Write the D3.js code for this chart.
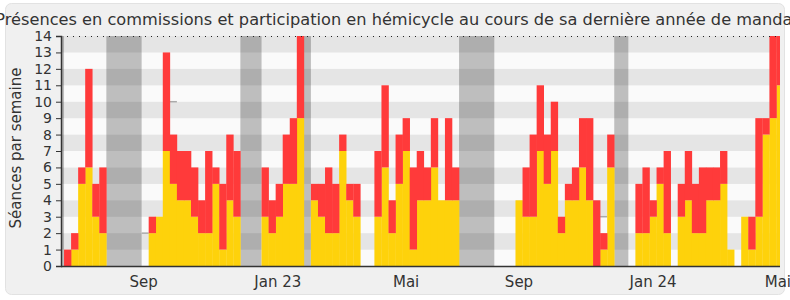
<!DOCTYPE html>
<html>
<head>
<meta charset="utf-8">
<script src="https://cdn.jsdelivr.net/npm/d3@7"></script>
<style>
  body { margin: 0; background: #fff; }
  text { font-family: "DejaVu Sans", sans-serif; fill: #333; }
</style>
</head>
<body>
<script>
// weekly values, one entry per week (index 0 = first week shown)
const commission = [0,1,5,6,3,2, 0,0,0,0,0, 0,2,3,7,5,4,4,3,2,2,5,1,4,3, 0,0,0, 3,2,3,5,5,9, 0,
  4,3,2,2,7,4,3,0,0,3,6,2,5,7,1,4,4,6,4,4,4, 0,0,0,0,0,
  0,0,0,4,3,3,7,5,7,2,4,4,6,4,0,1,6, 0,0,
  0,2,2,3,5,2,0,3,4,2,2,4,4,5,1,0,3,1,3,8,9,11];
const hemicycle = [1,1,1,6,2,4, 0,0,0,0,0, 0,1,0,6,3,3,3,3,2,5,1,4,4,4, 0,0,0, 3,2,2,3,4,5, 0,
  1,2,4,3,1,1,2,0,0,4,5,2,3,2,5,3,2,3,0,5,2, 0,0,0,0,0,
  0,0,0,0,3,5,4,3,3,1,1,2,3,5,4,1,2, 0,0,
  0,3,4,1,1,5,0,2,3,3,4,2,2,2,0,0,0,2,6,1,5,3];
// small grey marks
const markWeeks = [11, 15, 76];
const markValues = [2, 10, 3];
// holidays (start week, end week)
const vacStart = [-0.43, 6, 25, 34, 56, 78];
const vacEnd = [0, 11, 28, 35, 61, 80];
// x labels
const tickWeeks = [11.3, 30.3, 48.5, 64.5, 83.5, 101.2];
const tickLabels = ["Sep", "Jan 23", "Mai", "Sep", "Jan 24", "Mai"];

const W = 790, H = 300;
const m = { left: 61, right: 780, top: 36, bottom: 266 };

const svg = d3.select("body").append("svg")
  .attr("width", W)
  .attr("height", H);

// panel
svg.append("rect")
  .attr("x", 0).attr("y", 0).attr("width", W).attr("height", H)
  .attr("fill", "#fff");
svg.append("rect")
  .attr("x", 5.5).attr("y", 3.5).attr("width", 779).attr("height", 291)
  .attr("rx", 6)
  .attr("fill", "#f0f0f0")
  .attr("stroke", "#e2e2e2");

const x = d3.scaleLinear().domain([-0.43, 101.5]).range([m.left, m.right]);
const y = d3.scaleLinear().domain([0, 14]).range([m.bottom, m.top]);

svg.append("clipPath").attr("id", "plot")
  .append("rect")
  .attr("x", m.left).attr("y", m.top - 1)
  .attr("width", m.right - m.left).attr("height", m.bottom - m.top + 1);

const g = svg.append("g").attr("clip-path", "url(#plot)");

// stripes
g.selectAll(".stripe")
  .data(d3.range(14))
  .join("rect")
  .attr("x", m.left)
  .attr("width", m.right - m.left)
  .attr("y", d => y(d + 1))
  .attr("height", d => y(d) - y(d + 1))
  .attr("fill", d => d % 2 ? "#e5e5e5" : "#fafafa");

// holidays
g.selectAll(".vac")
  .data(vacStart)
  .join("rect")
  .attr("x", d => x(d))
  .attr("width", (d, i) => x(vacEnd[i]) - x(d))
  .attr("y", m.top)
  .attr("height", m.bottom - m.top)
  .attr("fill", "#000")
  .attr("opacity", 0.24);

// grey marks
g.selectAll(".mark")
  .data(markWeeks)
  .join("line")
  .attr("x1", d => x(d))
  .attr("x2", d => x(d + 1))
  .attr("y1", (d, i) => y(markValues[i]))
  .attr("y2", (d, i) => y(markValues[i]))
  .attr("stroke", "#aaa")
  .attr("stroke-width", 1.5);

const weeks = d3.range(commission.length);

// commission (yellow)
g.selectAll(".com")
  .data(weeks)
  .join("rect")
  .attr("x", d => x(d))
  .attr("width", x(1) - x(0) + 0.3)
  .attr("y", d => y(commission[d]))
  .attr("height", d => y(0) - y(commission[d]))
  .attr("fill", "#fed20b");

// hemicycle (red) on top
g.selectAll(".hem")
  .data(weeks.filter(d => hemicycle[d] > 0))
  .join("rect")
  .attr("x", d => x(d))
  .attr("width", x(1) - x(0) + 0.3)
  .attr("y", d => y(commission[d] + hemicycle[d]))
  .attr("height", d => y(commission[d]) - y(commission[d] + hemicycle[d]))
  .attr("fill", "#ff3a3a");

// dotted line at the max
svg.append("line")
  .attr("x1", m.left).attr("x2", m.right)
  .attr("y1", m.top + 0.5).attr("y2", m.top + 0.5)
  .attr("stroke", "#222")
  .attr("stroke-dasharray", "1,5");

// y axis
const yAxis = svg.append("g")
  .attr("transform", "translate(" + m.left + ",0)")
  .call(d3.axisLeft(y).ticks(14).tickSize(5).tickPadding(4));
yAxis.select(".domain").attr("stroke", "#333").attr("stroke-width", 1.5);
yAxis.selectAll(".tick line").attr("stroke", "#333");
yAxis.selectAll("text").attr("font-size", 14).attr("fill", "#333")
  .attr("font-family", "DejaVu Sans");

// x axis line
svg.append("line")
  .attr("x1", m.left).attr("x2", m.right)
  .attr("y1", m.bottom + 0.5).attr("y2", m.bottom + 0.5)
  .attr("stroke", "#333")
  .attr("stroke-width", 1.5);

svg.selectAll(".xlab")
  .data(tickWeeks)
  .join("text")
  .attr("x", d => x(d))
  .attr("y", 287)
  .attr("text-anchor", "middle")
  .attr("font-size", 15)
  .text((d, i) => tickLabels[i]);

// y label
svg.append("text")
  .attr("transform", "translate(21,148) rotate(-90)")
  .attr("text-anchor", "middle")
  .attr("font-size", 15)
  .text("Séances par semaine");

// title
svg.append("text")
  .attr("x", 397)
  .attr("y", 25)
  .attr("text-anchor", "middle")
  .attr("font-size", 16.2)
  .text("Présences en commissions et participation en hémicycle au cours de sa dernière année de mandat");
</script>
</body>
</html>
